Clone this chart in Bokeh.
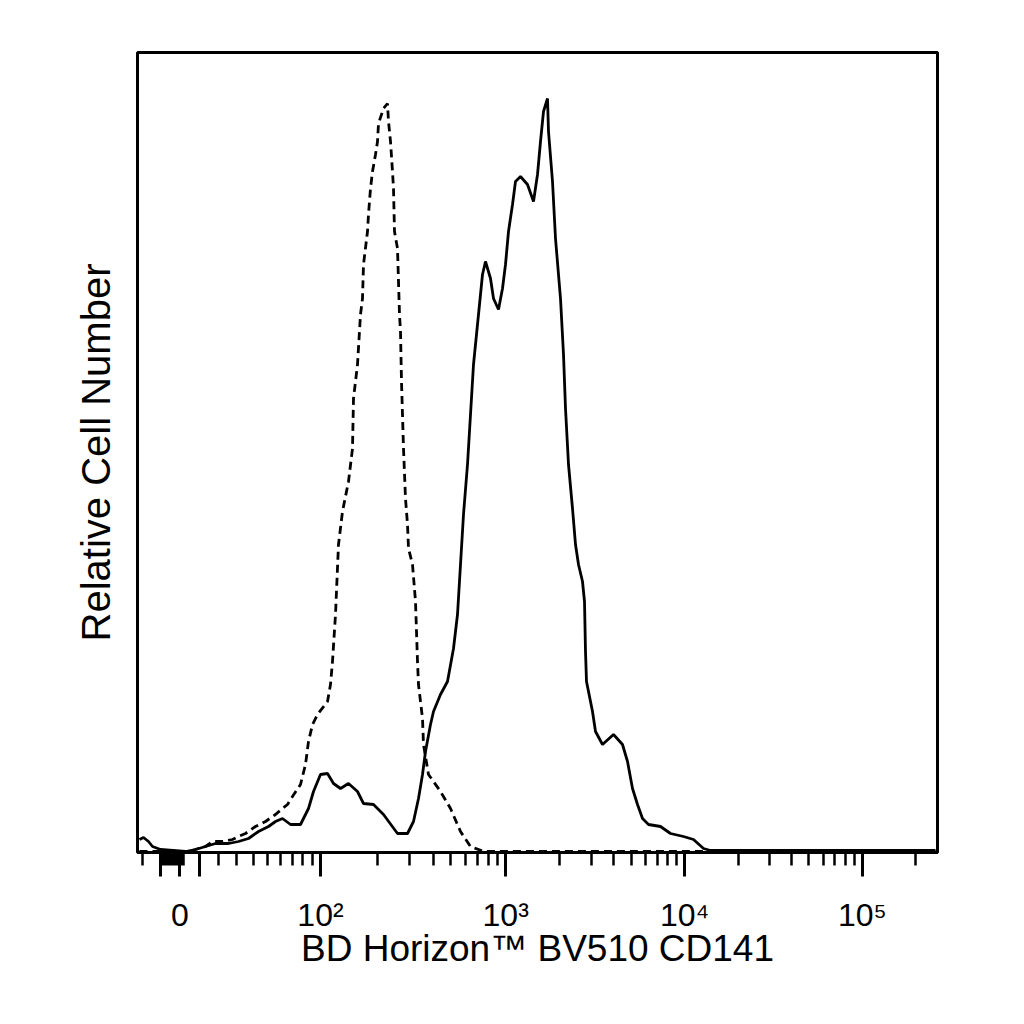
import numpy as np
from bokeh.plotting import figure
from bokeh.models import Range1d, FixedTicker
from bokeh.embed import file_html
from bokeh.resources import INLINE

# histogram: display channel (0-800 across the axis) vs count
cd141_ch = [2, 6, 11, 15, 23, 48, 58, 68, 78, 91, 101, 111, 121, 131, 138, 145,
            153, 163, 171, 176, 183, 190, 196, 203, 211, 220, 226, 236, 246, 260,
            270, 276, 281, 285, 288, 293, 296, 303, 310, 316, 320, 323, 326, 330,
            333, 336, 341, 345, 348, 353, 356, 361, 365, 368, 371, 375, 378, 383,
            390, 396, 400, 403, 406, 410, 411, 415, 418, 423, 426, 428, 431, 435,
            438, 441, 445, 447, 448, 449, 452, 455, 458, 465, 476, 485, 490, 495,
            500, 505, 511, 523, 533, 546, 556, 566, 573, 798]
cd141_count = [13, 15, 11, 6, 3, 1, 3, 6, 9, 9, 11, 14, 21, 26, 31, 34,
               28, 28, 44, 61, 78, 79, 69, 64, 69, 61, 49, 48, 38, 19,
               19, 31, 54, 78, 101, 128, 141, 158, 171, 204, 238, 288, 338, 388,
               438, 488, 538, 578, 591, 574, 554, 543, 564, 588, 621, 648, 671, 676,
               668, 651, 678, 711, 741, 754, 721, 671, 614, 554, 498, 444, 388, 344,
               308, 288, 271, 251, 201, 171, 156, 141, 121, 108, 118, 108, 91, 64,
               48, 34, 28, 26, 19, 16, 13, 4, 2, 2]

isotype_ch = [2, 51, 55, 61, 68, 75, 85, 95, 101, 108, 118, 128, 138, 145, 150,
              155, 163, 168, 171, 175, 180, 190, 193, 195, 198, 201, 205, 211, 215,
              216, 220, 223, 225, 226, 230, 231, 233, 235, 238, 240, 241, 246, 250,
              251, 253, 255, 256, 257, 260, 261, 262, 263, 264, 265, 266, 268, 270,
              271, 275, 278, 280, 281, 285, 286, 291, 303, 313, 323, 333, 346, 798]
isotype_count = [1, 1, 2, 4, 6, 11, 11, 13, 16, 19, 26, 31, 38, 44, 48,
                 56, 68, 88, 111, 128, 138, 151, 168, 191, 238, 308, 341, 371, 404,
                 454, 488, 538, 554, 588, 621, 638, 664, 681, 698, 711, 729, 744, 749,
                 731, 711, 681, 664, 621, 604, 571, 538, 521, 471, 438, 404, 354, 328,
                 304, 288, 251, 191, 168, 134, 108, 78, 61, 44, 21, 6, 1, 1]

major_values = [-10, 0, 10, 100, 1000, 10000, 100000]
major_labels = ["", "0", "", "10²", "10³", "10⁴", "10⁵"]
minor_values = ([-20] + list(range(-9, 0)) + [1, 2]
                + [m * 10 ** k for k in range(1, 5) for m in range(2, 10)] + [200000])

# biexponential display scale: channel offset from zero -> intensity
ZERO_CH = 42.3
def intensity(u):
    return 14.37 * np.exp(0.012961 * u) - 34.76 * np.exp(-0.0093 * u) + 20.39

grid = np.linspace(-60, 800, 20000)
def to_channel(v):
    return [round(float(c), 2) for c in np.interp(v, intensity(grid), grid) + ZERO_CH]

major_ch = to_channel(major_values)
minor_ch = to_channel(minor_values)

FONT = "Liberation Sans"

p = figure(frame_width=800, frame_height=800, output_backend="svg",
           toolbar_location=None, x_range=Range1d(0, 800), y_range=Range1d(0, 800),
           min_border_left=137, min_border_top=52, min_border_right=30,
           min_border_bottom=140)
p.grid.visible = False
p.outline_line_color = "black"
p.outline_line_width = 3

p.line(isotype_ch, isotype_count, line_color="black", line_width=2.8, line_dash="8 5")
p.line(cd141_ch, cd141_count, line_color="black", line_width=2.8)

xa = p.xaxis[0]
xa.ticker = FixedTicker(ticks=major_ch, minor_ticks=minor_ch)
xa.major_label_overrides = dict(zip(major_ch, major_labels))
xa.major_tick_in = 0
xa.major_tick_out = 24
xa.minor_tick_in = 0
xa.minor_tick_out = 13
xa.major_tick_line_width = 3
xa.minor_tick_line_width = 2.5
xa.axis_line_width = 3
xa.major_label_text_font = FONT
xa.major_label_text_font_size = "32px"
xa.major_label_text_color = "black"
xa.major_label_standoff = 20
xa.axis_label = "BD Horizon™ BV510 CD141"
xa.axis_label_text_font = FONT
xa.axis_label_text_font_size = "37px"
xa.axis_label_text_font_style = "normal"
xa.axis_label_text_color = "black"
xa.axis_label_standoff = -8

ya = p.yaxis[0]
ya.ticker = FixedTicker(ticks=[])
ya.major_tick_out = 0
ya.minor_tick_out = 0
ya.axis_line_color = None
ya.major_label_text_font_size = "0px"
ya.axis_label = "Relative Cell Number"
ya.axis_label_text_font = FONT
ya.axis_label_text_font_size = "40px"
ya.axis_label_text_font_style = "normal"
ya.axis_label_text_color = "black"
ya.axis_label_standoff = 20

open("out.html", "w").write(file_html(p, INLINE))
